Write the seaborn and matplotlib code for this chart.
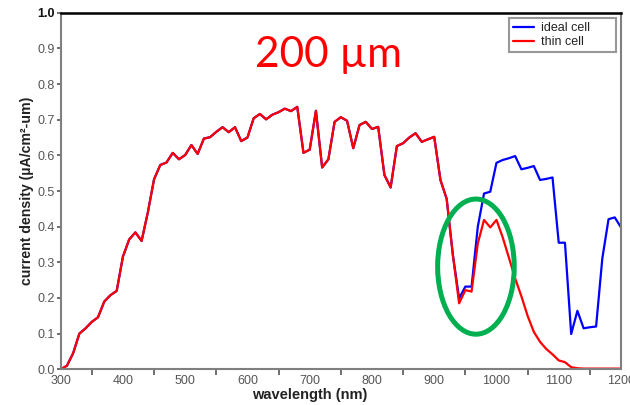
import matplotlib
matplotlib.use("Agg")
import matplotlib.pyplot as plt
from matplotlib.patches import Ellipse
from matplotlib.ticker import FormatStrFormatter
import pandas as pd
import seaborn as sns

# Spectral current density of a 200 µm cell, 300-1200 nm in 10 nm steps
wavelength = list(range(300, 1201, 10))

ideal_cell = [
    0.000, 0.010, 0.045, 0.100, 0.115, 0.133, 0.146, 0.190, 0.208, 0.220,
    0.316, 0.364, 0.384, 0.360, 0.440, 0.533, 0.573, 0.580, 0.607, 0.589,
    0.601, 0.629, 0.604, 0.647, 0.651, 0.666, 0.679, 0.665, 0.679, 0.640,
    0.650, 0.704, 0.716, 0.701, 0.714, 0.721, 0.731, 0.724, 0.736, 0.607,
    0.616, 0.725, 0.566, 0.589, 0.694, 0.707, 0.697, 0.620, 0.685, 0.694,
    0.674, 0.680, 0.545, 0.510, 0.626, 0.634, 0.650, 0.662, 0.638, 0.645,
    0.652, 0.531, 0.478, 0.320, 0.199, 0.232, 0.232, 0.400, 0.493, 0.498,
    0.579, 0.587, 0.592, 0.598, 0.561, 0.565, 0.570, 0.531, 0.534, 0.538,
    0.355, 0.355, 0.099, 0.164, 0.115, 0.118, 0.120, 0.311, 0.421, 0.426,
    0.398,
]

thin_cell = [
    0.000, 0.010, 0.045, 0.100, 0.115, 0.133, 0.146, 0.190, 0.208, 0.220,
    0.316, 0.364, 0.384, 0.360, 0.440, 0.533, 0.573, 0.580, 0.607, 0.589,
    0.601, 0.629, 0.604, 0.647, 0.651, 0.666, 0.679, 0.665, 0.679, 0.640,
    0.650, 0.704, 0.716, 0.701, 0.714, 0.721, 0.731, 0.724, 0.736, 0.607,
    0.616, 0.725, 0.566, 0.589, 0.694, 0.707, 0.697, 0.620, 0.685, 0.694,
    0.674, 0.680, 0.545, 0.510, 0.626, 0.634, 0.650, 0.662, 0.638, 0.645,
    0.652, 0.531, 0.478, 0.320, 0.185, 0.222, 0.218, 0.353, 0.419, 0.398,
    0.419, 0.370, 0.313, 0.255, 0.205, 0.150, 0.105, 0.077, 0.057, 0.042,
    0.025, 0.020, 0.006, 0.003, 0.002, 0.002, 0.002, 0.002, 0.002, 0.002,
    0.002,
]

series_names = ["ideal cell", "thin cell"]
series_colors = {"ideal cell": "#0000ff", "thin cell": "#ff0000"}
y_tick_values = [0.0, 0.1, 0.2, 0.3, 0.4, 0.5, 0.6, 0.7, 0.8, 0.9, 1.0]
x_tick_values = [300, 400, 500, 600, 700, 800, 900, 1000, 1100, 1200]

sns.set_style("white")
plt.rcParams["font.family"] = ["Liberation Sans", "DejaVu Sans"]

n = len(wavelength)
df = pd.DataFrame({
    "wavelength": wavelength * 2,
    "current": ideal_cell + thin_cell,
    "cell": [series_names[0]] * n + [series_names[1]] * n,
})

fig = plt.figure(figsize=(6.3, 4.05), dpi=100)
ax = fig.add_axes([0.0963, 0.0881, 0.8894, 0.8805])

sns.lineplot(data=df, x="wavelength", y="current", hue="cell",
             hue_order=series_names, palette=series_colors,
             linewidth=1.6, ax=ax, legend=True)

ax.set_xlim(300, 1200)
ax.set_ylim(0, 1.0)

# axis frame: heavy black top edge, grey elsewhere
for side in ["left", "right", "bottom"]:
    ax.spines[side].set_color("#7f7f7f")
    ax.spines[side].set_linewidth(1.5)
ax.spines["top"].set_color("#000000")
ax.spines["top"].set_linewidth(1.8)

ax.set_yticks(y_tick_values)
ax.yaxis.set_major_formatter(FormatStrFormatter("%.1f"))
ax.set_xticks(x_tick_values)
ax.set_xticks([v + 50 for v in x_tick_values[:-1]], minor=True)
ax.tick_params(axis="x", which="major", length=0, pad=4,
               labelsize=9, labelcolor="#555555")
ax.tick_params(axis="x", which="minor", length=4, width=1.2,
               color="#555555", direction="out", bottom=True)
ax.tick_params(axis="y", which="major", length=3, width=1.2, pad=1.5,
               color="#555555", direction="out", left=True,
               labelsize=9, labelcolor="#555555")
top_label = ax.get_yticklabels()[-1]
top_label.set_color("#111111")
top_label.set_fontweight("bold")

ax.set_xlabel("wavelength (nm)", fontsize=10.5, fontweight="bold",
              color="#222222")
ax.xaxis.set_label_coords(0.445, -0.053)
ax.set_ylabel("current density (µA/cm²-um)", fontsize=10.2, fontweight="bold",
              color="#222222")
ax.yaxis.set_label_coords(-0.048, 0.5)

leg = ax.legend(loc="upper left", bbox_to_anchor=(0.800, 0.5, 0.191, 0.484),
                mode="expand", fontsize=9, frameon=True, fancybox=False,
                edgecolor="#7f7f7f", handlelength=1.7, handletextpad=0.55,
                borderpad=0.3, labelspacing=0.15, borderaxespad=0.0,
                title=None)
leg.get_frame().set_linewidth(1.5)
for t in leg.get_texts():
    t.set_color("#222222")

ax.text(0.478, 0.849, "200 µm", transform=ax.transAxes, ha="center",
        va="baseline", fontsize=30.5, color="#ff0000", family="Lato")

# green ring around the absorption dip
ax.add_patch(Ellipse((967, 0.288), width=123, height=0.379, fill=False,
                     edgecolor="#00b050", linewidth=3.6, zorder=5))

fig.savefig("out.png", dpi=100, facecolor="white")
